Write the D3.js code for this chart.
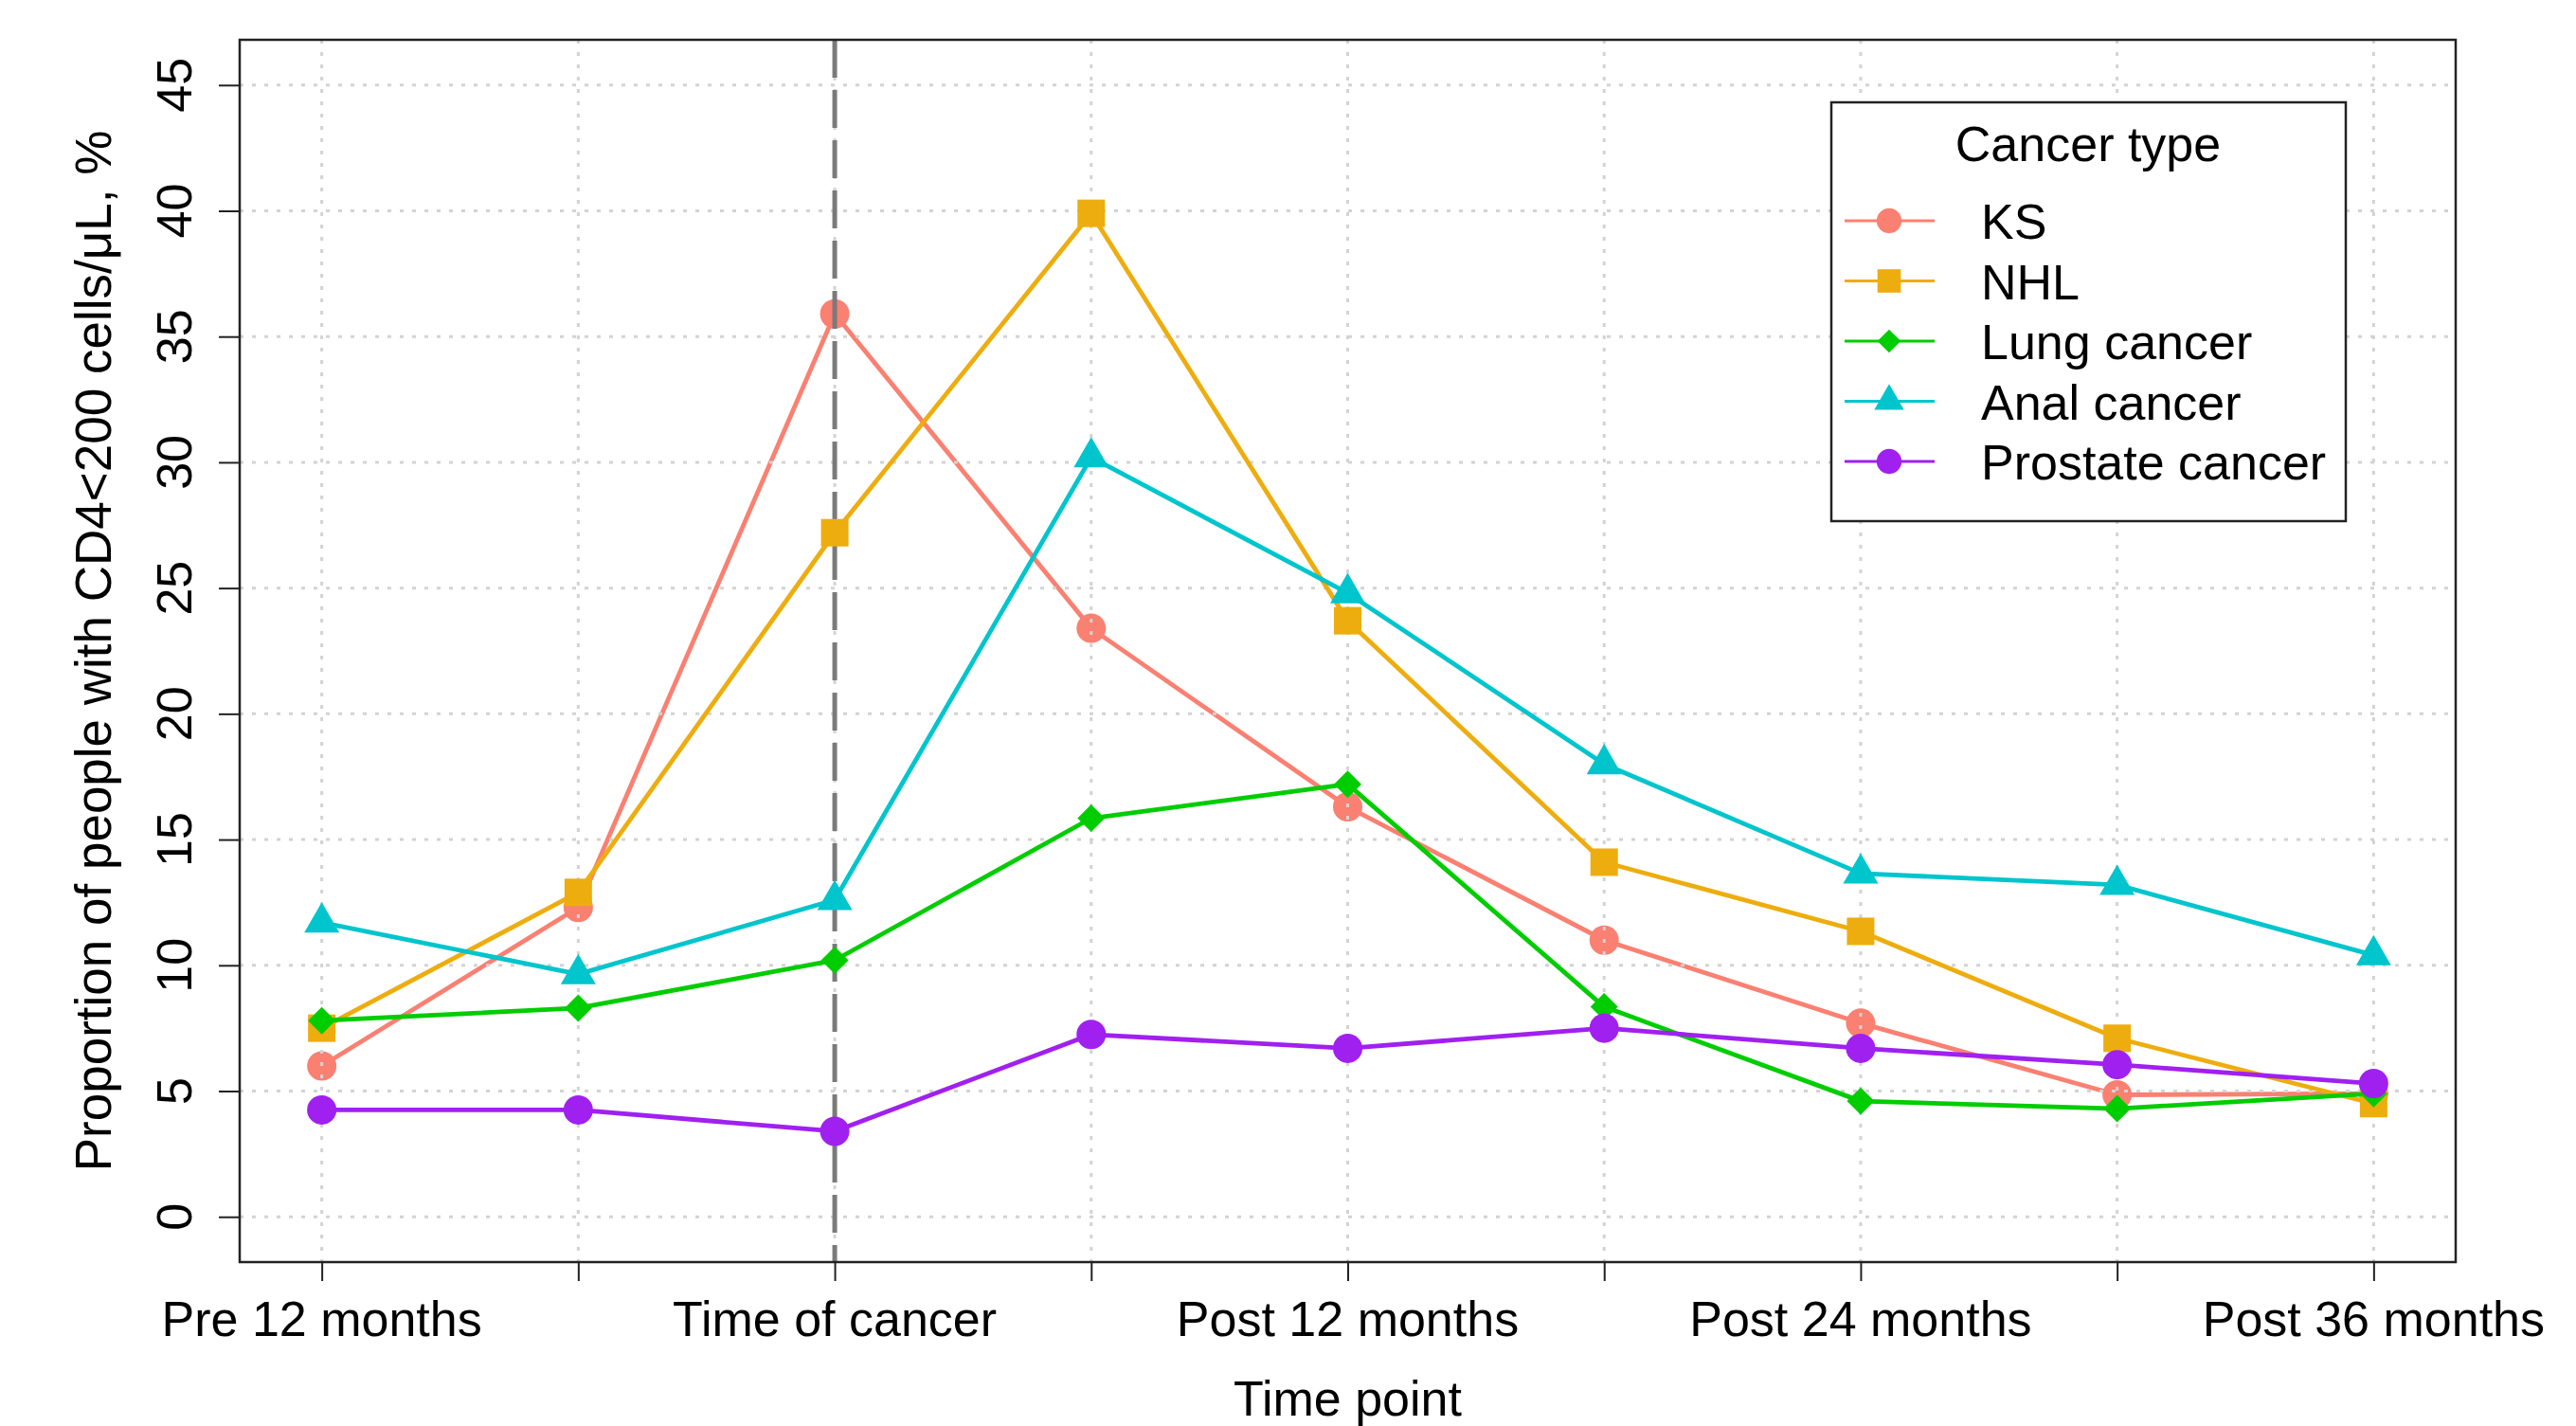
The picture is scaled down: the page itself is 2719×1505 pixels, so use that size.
<!DOCTYPE html>
<html>
<head>
<meta charset="utf-8">
<script src="https://cdn.jsdelivr.net/npm/d3@7"></script>
<style>
  html, body { margin: 0; padding: 0; background: #ffffff; }
  svg { display: block; }
  text { font-family: "Liberation Sans", Arial, sans-serif; fill: #000; }
</style>
</head>
<body>
<script>
// ---------- data ----------
const timePoints = [1, 2, 3, 4, 5, 6, 7, 8, 9];
const xTickLabels = ["Pre 12 months", "Time of cancer", "Post 12 months", "Post 24 months", "Post 36 months"];
const xTickLabelPositions = [1, 3, 5, 7, 9];
const yTicks = [0, 5, 10, 15, 20, 25, 30, 35, 40, 45];

const seriesNames = ["KS", "NHL", "Lung cancer", "Anal cancer", "Prostate cancer"];
const ksValues       = [6.0, 12.3, 35.9, 23.4, 16.3, 11.0, 7.7, 4.85, 4.9];
const nhlValues      = [7.5, 12.9, 27.2, 39.9, 23.7, 14.1, 11.35, 7.1, 4.5];
const lungValues     = [7.8, 8.3, 10.2, 15.85, 17.2, 8.35, 4.6, 4.3, 4.9];
const analValues     = [11.7, 9.65, 12.6, 30.2, 24.8, 18.0, 13.65, 13.2, 10.4];
const prostateValues = [4.25, 4.25, 3.4, 7.25, 6.7, 7.5, 6.7, 6.05, 5.3];
const cancerTimePoint = 3;

// ---------- layout ----------
const W = 2719, H = 1505;
const plotL = 253, plotR = 2592, plotT = 42, plotB = 1332;

const colors = ["#FA8072", "#EEAD0E", "#00CD00", "#00C5CD", "#A020F0"];
const shapes = ["circle", "square", "diamond", "triangle", "circle"];
const allValues = [ksValues, nhlValues, lungValues, analValues, prostateValues];

const series = seriesNames.map((name, i) => ({
  name, color: colors[i], shape: shapes[i],
  values: timePoints.map((t, j) => ({ t, v: allValues[i][j] }))
}));

const x = d3.scaleLinear().domain([0.68, 9.32]).range([plotL, plotR]);
const y = d3.scaleLinear().domain([-1.8, 46.8]).range([plotB, plotT]);

const svg = d3.select("body").append("svg").attr("width", W).attr("height", H);
svg.append("rect").attr("width", W).attr("height", H).attr("fill", "#fff");

function markerPath(shape, scale) {
  const s = scale || 1;
  if (shape === "circle") return d3.symbol().type(d3.symbolCircle).size(Math.PI * 15.5 * 15.5 * s * s)();
  if (shape === "square") return d3.symbol().type(d3.symbolSquare).size(29 * 29 * s * s)();
  if (shape === "diamond") return d3.symbol().type(d3.symbolSquare).size(20.5 * 20.5 * s * s)();
  if (shape === "triangle") return d3.symbol().type(d3.symbolTriangle).size(Math.sqrt(3) / 4 * 37 * 37 * s * s)();
}
function markerRotate(shape) { return shape === "diamond" ? " rotate(45)" : ""; }

const line = d3.line().x(d => x(d.t)).y(d => y(d.v));

function drawSeries(g, s) {
  g.append("path").datum(s.values).attr("d", line)
    .attr("fill", "none").attr("stroke", s.color).attr("stroke-width", 4.8)
    .attr("stroke-linejoin", "round");
  g.selectAll(null).data(s.values).enter().append("path")
    .attr("d", markerPath(s.shape))
    .attr("transform", d => `translate(${x(d.t)},${y(d.v)})` + markerRotate(s.shape))
    .attr("fill", s.color);
}

// first series (drawn before the grid, as in the original)
drawSeries(svg.append("g"), series[0]);

// grid
const grid = svg.append("g");
grid.selectAll(null).data(yTicks).enter().append("line")
  .attr("x1", plotL).attr("x2", plotR).attr("y1", d => y(d)).attr("y2", d => y(d))
  .attr("stroke", "#d3d3d3").attr("stroke-width", 3).attr("stroke-dasharray", "4,9");
grid.selectAll(null).data(timePoints).enter().append("line")
  .attr("y1", plotT).attr("y2", plotB).attr("x1", d => x(d)).attr("x2", d => x(d))
  .attr("stroke", "#d3d3d3").attr("stroke-width", 3).attr("stroke-dasharray", "4,9");

// vertical dashed line at time of cancer
svg.append("line")
  .attr("x1", x(cancerTimePoint)).attr("x2", x(cancerTimePoint))
  .attr("y1", plotT).attr("y2", plotB)
  .attr("stroke", "#7a7a7a").attr("stroke-width", 5).attr("stroke-dasharray", "40,13");

// remaining series
series.slice(1).forEach(s => drawSeries(svg.append("g"), s));

// box
svg.append("rect").attr("x", plotL).attr("y", plotT)
  .attr("width", plotR - plotL).attr("height", plotB - plotT)
  .attr("fill", "none").attr("stroke", "#222").attr("stroke-width", 2.5);

// x axis
const xAxis = d3.axisBottom(x).tickValues(timePoints).tickSize(20).tickFormat("");
const gx = svg.append("g").attr("transform", `translate(0,${plotB})`).call(xAxis);
gx.select(".domain").remove();
gx.selectAll(".tick line").attr("stroke", "#222").attr("stroke-width", 2);
svg.selectAll(null).data(xTickLabelPositions).enter().append("text")
  .attr("x", d => x(d)).attr("y", 1410)
  .attr("text-anchor", "middle").attr("font-size", 52)
  .text((d, i) => xTickLabels[i]);

// y axis
const yAxis = d3.axisLeft(y).tickValues(yTicks).tickSize(22).tickFormat("");
const gy = svg.append("g").attr("transform", `translate(${plotL},0)`).call(yAxis);
gy.select(".domain").attr("d", `M0,${y(0)}V${y(45)}`).attr("stroke", "#222").attr("stroke-width", 2);
gy.selectAll(".tick line").attr("stroke", "#222").attr("stroke-width", 2);
svg.selectAll(null).data(yTicks).enter().append("text")
  .attr("transform", d => `translate(202,${y(d)}) rotate(-90)`)
  .attr("text-anchor", "middle").attr("font-size", 52)
  .text(d => d);

// axis titles
svg.append("text").attr("x", (plotL + plotR) / 2).attr("y", 1494)
  .attr("text-anchor", "middle").attr("font-size", 52).text("Time point");
svg.append("text")
  .attr("transform", `translate(117,${(plotT + plotB) / 2}) rotate(-90)`)
  .attr("text-anchor", "middle").attr("font-size", 53)
  .text("Proportion of people with CD4<200 cells/μL, %");

// legend
const lg = svg.append("g");
lg.append("rect").attr("x", 1933).attr("y", 108).attr("width", 543).attr("height", 442)
  .attr("fill", "#fff").attr("stroke", "#222").attr("stroke-width", 2.5);
lg.append("text").attr("x", 2204).attr("y", 170).attr("text-anchor", "middle")
  .attr("font-size", 52).text("Cancer type");
series.forEach((s, i) => {
  const cy = 233 + i * 63.5;
  lg.append("line").attr("x1", 1947).attr("x2", 2042).attr("y1", cy).attr("y2", cy)
    .attr("stroke", s.color).attr("stroke-width", 3);
  lg.append("path").attr("d", markerPath(s.shape, 0.85))
    .attr("transform", `translate(1994,${cy})` + markerRotate(s.shape))
    .attr("fill", s.color);
  lg.append("text").attr("x", 2091).attr("y", cy + 19).attr("font-size", 52).text(s.name);
});
</script>
</body>
</html>
